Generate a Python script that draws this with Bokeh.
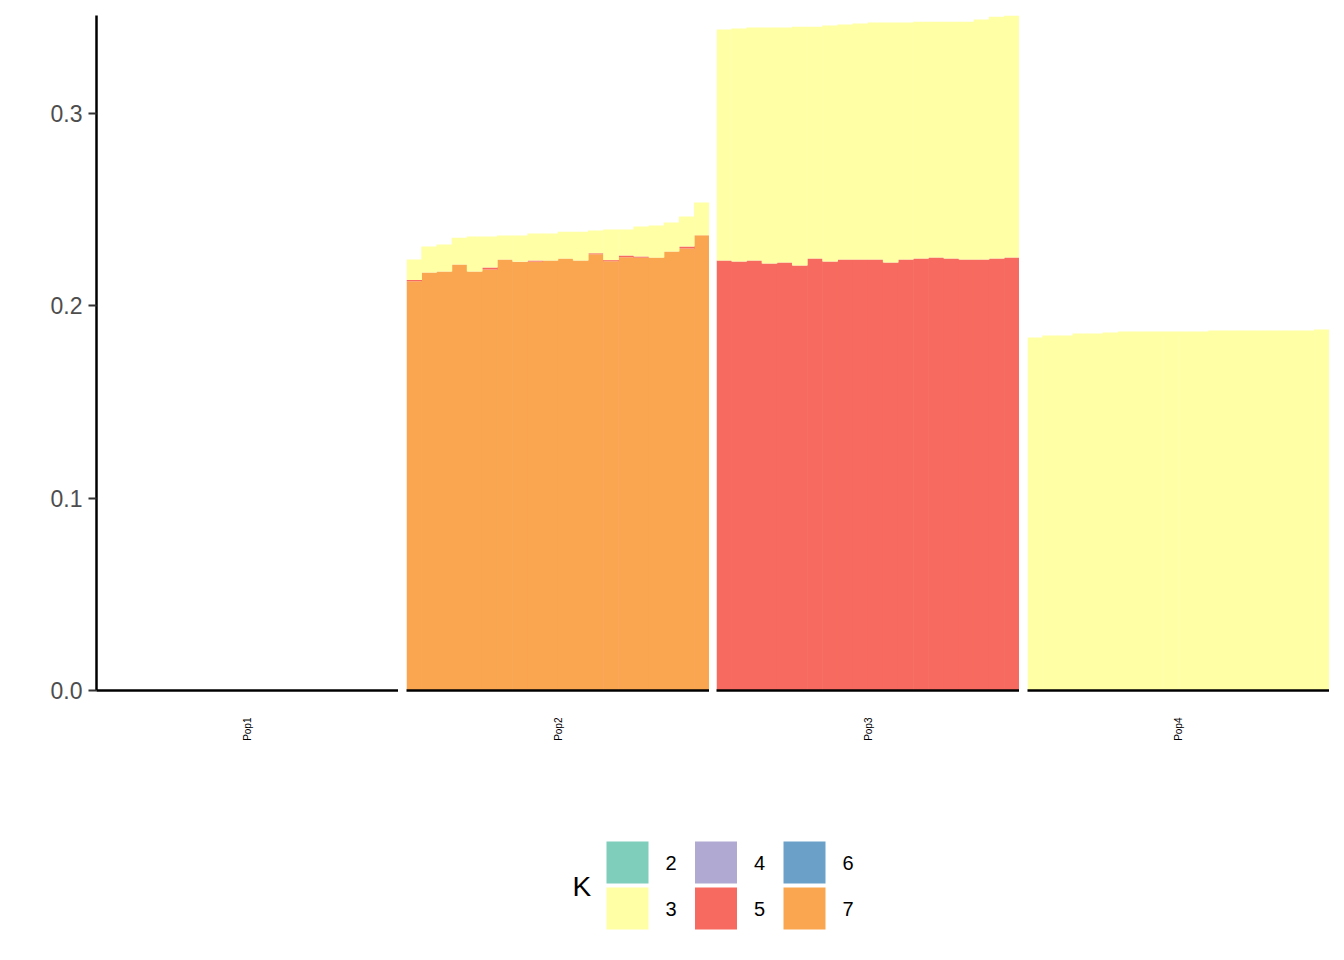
import math
from bokeh.plotting import figure
from bokeh.models import ColumnDataSource, Range1d, FixedTicker
from bokeh.core.properties import value
from bokeh.layouts import row, column
from bokeh.embed import file_html
from bokeh.resources import INLINE

# ---------------- data ----------------
pops = ["Pop1", "Pop2", "Pop3", "Pop4"]
k_levels = ["2", "3", "4", "5", "6", "7"]
k_colors = ["#7FCDBB", "#FFFFA6", "#B0AAD2", "#F76A5F", "#6BA1C9", "#FAA550"]
individuals = list(range(1, 21))

zeros20 = [0.0, 0.0, 0.0, 0.0, 0.0, 0.0, 0.0, 0.0, 0.0, 0.0,
           0.0, 0.0, 0.0, 0.0, 0.0, 0.0, 0.0, 0.0, 0.0, 0.0]

pop2_k7 = [0.2128, 0.2173, 0.2179, 0.2215, 0.2179, 0.2189, 0.2241, 0.2230, 0.2230, 0.2236,
           0.2246, 0.2236, 0.2269, 0.2232, 0.2253, 0.2251, 0.2251, 0.2283, 0.2298, 0.2367]
pop2_k5 = [0.0006, 0.0, 0.0, 0.0, 0.0, 0.0010, 0.0, 0.0, 0.0006, 0.0,
           0.0, 0.0, 0.0005, 0.0006, 0.0009, 0.0006, 0.0, 0.0, 0.0011, 0.0]
pop2_k3 = [0.0107, 0.0136, 0.0140, 0.0139, 0.0182, 0.0162, 0.0125, 0.0136, 0.0140, 0.0140,
           0.0139, 0.0149, 0.0118, 0.0159, 0.0135, 0.0156, 0.0167, 0.0150, 0.0156, 0.0170]

pop3_k5 = [0.2236, 0.2231, 0.2236, 0.2220, 0.2225, 0.2210, 0.2246, 0.2231, 0.2241, 0.2241,
           0.2241, 0.2225, 0.2241, 0.2246, 0.2251, 0.2246, 0.2241, 0.2241, 0.2246, 0.2251]
pop3_k3 = [0.1201, 0.1211, 0.1211, 0.1227, 0.1222, 0.1242, 0.1206, 0.1227, 0.1222, 0.1227,
           0.1232, 0.1248, 0.1232, 0.1232, 0.1227, 0.1232, 0.1237, 0.1248, 0.1258, 0.1259]

pop4_k3 = [0.1835, 0.1846, 0.1846, 0.1856, 0.1856, 0.1861, 0.1867, 0.1867, 0.1867, 0.1867,
           0.1867, 0.1867, 0.1872, 0.1872, 0.1872, 0.1872, 0.1872, 0.1872, 0.1872, 0.1877]

pop_data = {
    "Pop1": {},
    "Pop2": {"3": pop2_k3, "5": pop2_k5, "7": pop2_k7},
    "Pop3": {"3": pop3_k3, "5": pop3_k5},
    "Pop4": {"3": pop4_k3},
}

y_ticks = [0.0, 0.1, 0.2, 0.3]
y_tick_labels = ["0.0", "0.1", "0.2", "0.3"]
legend_title = "K"

# ---------------- style ----------------
FONT = "Liberation Sans"
stack_order = ["7", "6", "5", "4", "3", "2"]          # bottom -> top
color_of = dict(zip(k_levels, k_colors))

totals = []
for pop in pops:
    d = pop_data[pop]
    for i in range(len(individuals)):
        totals.append(sum(d.get(k, zeros20)[i] for k in k_levels))
y_top = max(totals)

frame_widths = [302, 303, 303, 302]
left_borders = [96, 8, 7, 8]

figs = []
for i, pop in enumerate(pops):
    d = pop_data[pop]
    src_dict = {"x": individuals}
    for k in k_levels:
        src_dict[k] = d.get(k, zeros20)
    src = ColumnDataSource(src_dict)

    p = figure(frame_width=frame_widths[i], frame_height=675,
               x_range=Range1d(0.5, 20.5), y_range=Range1d(0, y_top),
               output_backend="svg", toolbar_location=None,
               min_border_left=left_borders[i], min_border_right=0,
               min_border_top=15, min_border_bottom=120)
    p.vbar_stack(stack_order, x="x", width=1.04, source=src,
                 fill_color=[color_of[k] for k in stack_order],
                 line_color=None)

    p.xgrid.visible = False
    p.ygrid.visible = False
    p.outline_line_color = None
    p.background_fill_color = "white"
    p.border_fill_color = "white"

    xa = p.xaxis[0]
    xa.ticker = FixedTicker(ticks=[10.5])
    xa.major_label_overrides = {10.5: pop}
    xa.axis_line_color = "black"
    xa.axis_line_width = 2.5
    xa.major_tick_line_color = None
    xa.minor_tick_line_color = None
    xa.major_tick_out = 0
    xa.major_tick_in = 0
    xa.major_label_orientation = math.pi / 2
    xa.major_label_standoff = 27
    xa.major_label_text_font_size = "10px"
    xa.major_label_text_font = FONT
    xa.major_label_text_color = "black"

    ya = p.yaxis[0]
    if i == 0:
        ya.ticker = FixedTicker(ticks=y_ticks)
        ya.major_label_overrides = dict(zip(y_ticks, y_tick_labels))
        ya.axis_line_color = "black"
        ya.axis_line_width = 2.5
        ya.major_tick_line_color = "#333333"
        ya.major_tick_line_width = 2.2
        ya.major_tick_out = 8
        ya.major_tick_in = 0
        ya.minor_tick_line_color = None
        ya.major_label_standoff = 6
        ya.major_label_text_font_size = "23px"
        ya.major_label_text_font = FONT
        ya.major_label_text_color = "#4D4D4D"
    else:
        ya.visible = False
    figs.append(p)

# ---------------- legend (pixel-unit figure) ----------------
LW, LH = 1329, 140
lf = figure(width=LW, height=LH, output_backend="svg", toolbar_location=None,
            min_border=0, x_range=Range1d(0, LW), y_range=Range1d(0, LH))
lf.axis.visible = False
lf.xgrid.visible = False
lf.ygrid.visible = False
lf.outline_line_color = None

key_size = 42
col_pitch = 88.5
row_pitch = 46
key_left0 = 606
key_top0 = LH - 31          # top of first row of keys
cols = [i // 2 for i in range(len(k_levels))]
rows_ = [i % 2 for i in range(len(k_levels))]
kx = [key_left0 + c * col_pitch + key_size / 2 for c in cols]
ky = [key_top0 - r * row_pitch - key_size / 2 for r in rows_]
tx = [key_left0 + c * col_pitch + key_size + 17 for c in cols]

leg_src = ColumnDataSource(dict(x=kx, y=ky, tx=tx, label=k_levels, color=k_colors))
lf.rect(x="x", y="y", width=key_size, height=key_size, fill_color="color",
        line_color=None, source=leg_src)
lf.text(x="tx", y="y", text="label", source=leg_src, text_font=value(FONT),
        text_font_size="20px", text_color="black", text_align="left",
        text_baseline="middle")

title_src = ColumnDataSource(dict(x=[572], y=[(ky[0] + ky[1]) / 2 - 1], text=[legend_title]))
lf.text(x="x", y="y", text="text", source=title_src, text_font=value(FONT),
        text_font_size="28px", text_color="black", text_align="left",
        text_baseline="middle")

layout = column(row(*figs, spacing=0), lf, spacing=0)
open("out.html", "w").write(file_html(layout, INLINE))
